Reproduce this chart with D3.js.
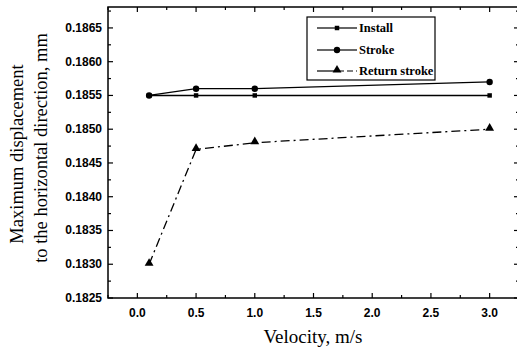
<!DOCTYPE html>
<html>
<head>
<meta charset="utf-8">
<script src="https://cdnjs.cloudflare.com/ajax/libs/d3/7.8.5/d3.min.js"></script>
<style>
body { margin: 0; background: #fff; }
</style>
</head>
<body>
<script>
var w = 517, h = 349;
var velocity = [0.1, 0.5, 1.0, 3.0];
var install = [0.1855, 0.1855, 0.1855, 0.1855];
var stroke = [0.1855, 0.1856, 0.1856, 0.1857];
var returnStroke = [0.1830, 0.1847, 0.1848, 0.1850];
var xTicks = [0, 0.5, 1, 1.5, 2, 2.5, 3];
var yTicks = [0.1825, 0.1830, 0.1835, 0.1840, 0.1845, 0.1850, 0.1855, 0.1860, 0.1865];
var seriesNames = ["Install", "Stroke", "Return stroke"];

// note: "top" is reserved on window, so use pl/pr/pt/pb
var pl = 108, pr = 519, pt = 7, pb = 298;

var svg = d3.select("body").append("svg").attr("width", w).attr("height", h);

var x = d3.scaleLinear().domain([-0.25, 3.25]).range([pl, pr]);
var y = d3.scaleLinear().domain([0.1825, 0.18681]).range([pb, pt]);

// frame
svg.append("rect").attr("x", pl).attr("y", pt)
    .attr("width", pr - pl).attr("height", pb - pt)
    .attr("fill", "none").attr("stroke", "#000").attr("stroke-width", 1.5);

// ticks, all inward
var xMinor = d3.range(-0.25, 3.26, 0.25);
var yMinor = d3.range(0.18250, 0.18681, 0.00025);
var tk = svg.append("g").attr("stroke", "#000").attr("stroke-width", 1.2);
xMinor.forEach(function (d) {
    var major = xTicks.some(function (t) { return Math.abs(t - d) < 1e-6; });
    var l = major ? 5 : 3;
    tk.append("line").attr("x1", x(d)).attr("x2", x(d)).attr("y1", pb).attr("y2", pb - l);
    tk.append("line").attr("x1", x(d)).attr("x2", x(d)).attr("y1", pt).attr("y2", pt + l);
});
yMinor.forEach(function (d) {
    var major = yTicks.some(function (t) { return Math.abs(t - d) < 1e-8; });
    var l = major ? 5 : 3;
    tk.append("line").attr("y1", y(d)).attr("y2", y(d)).attr("x1", pl).attr("x2", pl + l);
    tk.append("line").attr("y1", y(d)).attr("y2", y(d)).attr("x1", pr).attr("x2", pr - l);
});

// tick labels
svg.selectAll(".xl").data(xTicks).enter().append("text")
    .attr("x", function (d) { return x(d); }).attr("y", 317)
    .attr("text-anchor", "middle")
    .attr("font-family", "Liberation Sans, Arial, sans-serif").attr("font-weight", "bold")
    .attr("font-size", 12)
    .text(function (d) { return d3.format(".1f")(d); });
svg.selectAll(".yl").data(yTicks).enter().append("text")
    .attr("x", 102).attr("y", function (d) { return y(d) + 4; })
    .attr("text-anchor", "end")
    .attr("font-family", "Liberation Sans, Arial, sans-serif").attr("font-weight", "bold")
    .attr("font-size", 12)
    .text(function (d) { return d3.format(".4f")(d); });

// axis titles
svg.append("text").attr("x", 313).attr("y", 343).attr("text-anchor", "middle")
    .attr("font-family", "Liberation Serif, Times New Roman, serif").attr("font-size", 19)
    .text("Velocity, m/s");
svg.append("text").attr("transform", "translate(23,154) rotate(-90)").attr("text-anchor", "middle")
    .attr("font-family", "Liberation Serif, Times New Roman, serif").attr("font-size", 18.5)
    .text("Maximum displacement");
svg.append("text").attr("transform", "translate(47,148) rotate(-90)").attr("text-anchor", "middle")
    .attr("font-family", "Liberation Serif, Times New Roman, serif").attr("font-size", 18.5)
    .text("to the horizontal direction, mm");

var line = d3.line().x(function (d) { return x(d[0]); }).y(function (d) { return y(d[1]); });
function pts(vals) { return velocity.map(function (v, i) { return [v, vals[i]]; }); }

svg.append("path").datum(pts(install)).attr("d", line)
    .attr("fill", "none").attr("stroke", "#000").attr("stroke-width", 1.5);
svg.append("path").datum(pts(stroke)).attr("d", line)
    .attr("fill", "none").attr("stroke", "#000").attr("stroke-width", 1.3);
svg.append("path").datum(pts(returnStroke)).attr("d", line)
    .attr("fill", "none").attr("stroke", "#000").attr("stroke-width", 1.3)
    .attr("stroke-dasharray", "9,4,2,4");

var sq = d3.symbol().type(d3.symbolSquare).size(20);
var ci = d3.symbol().type(d3.symbolCircle).size(32);
var tr = d3.symbol().type(d3.symbolTriangle).size(34);

svg.selectAll(".m1").data(pts(install)).enter().append("path")
    .attr("d", sq).attr("transform", function (d) { return "translate(" + x(d[0]) + "," + y(d[1]) + ")"; });
svg.selectAll(".m2").data(pts(stroke)).enter().append("path")
    .attr("d", ci).attr("transform", function (d) { return "translate(" + x(d[0]) + "," + y(d[1]) + ")"; });
svg.selectAll(".m3").data(pts(returnStroke)).enter().append("path")
    .attr("d", tr).attr("transform", function (d) { return "translate(" + x(d[0]) + "," + (y(d[1]) - 1) + ")"; });

// legend
var lg = svg.append("g");
lg.append("rect").attr("x", 307).attr("y", 17).attr("width", 128).attr("height", 63)
    .attr("fill", "#fff").attr("stroke", "#000").attr("stroke-width", 1.2);
var rows = [28, 50, 71];
var syms = [sq, ci, tr];
var dashes = [null, null, "6,3"];
seriesNames.forEach(function (name, i) {
    lg.append("line").attr("x1", 317).attr("x2", 336).attr("y1", rows[i]).attr("y2", rows[i])
        .attr("stroke", "#000").attr("stroke-width", 1.2);
    lg.append("line").attr("x1", 338).attr("x2", 357).attr("y1", rows[i]).attr("y2", rows[i])
        .attr("stroke", "#000").attr("stroke-width", 1.2).attr("stroke-dasharray", dashes[i]);
    lg.append("path").attr("d", syms[i]).attr("transform", "translate(337," + (rows[i] - (i == 2 ? 1 : 0)) + ")");
    lg.append("text").attr("x", 359).attr("y", rows[i] + 4)
        .attr("font-family", "Liberation Serif, Times New Roman, serif").attr("font-weight", "bold")
        .attr("font-size", 12.5).text(name);
});
</script>
</body>
</html>
